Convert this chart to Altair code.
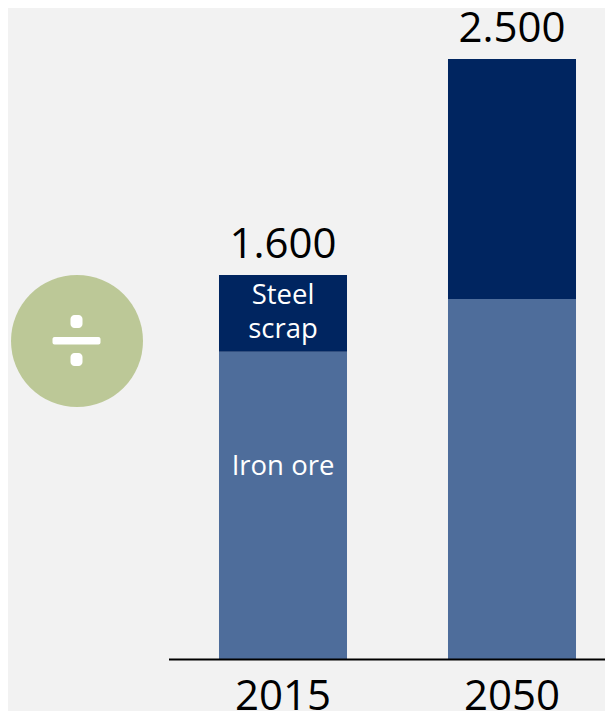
import altair as alt
import pandas as pd

years = ["2015", "2015", "2050", "2050"]
materials = ["Iron ore", "Steel scrap", "Iron ore", "Steel scrap"]
values = [1280, 320, 1500, 1000]
total_years = ["2015", "2050"]
totals = [1600, 2500]
total_labels = ["1.600", "2.500"]
BG = "#F2F2F2"
FONT = "Open Sans"

bars_df = pd.DataFrame({"year": years, "material": materials, "value": values})
totals_df = pd.DataFrame({"year": total_years, "total": totals, "label": total_labels})
inner_df = pd.DataFrame({
    "year": ["2015", "2015", "2015"],
    "v": [1514, 1369, 800],
    "t": ["Steel", "scrap", "Iron ore"],
})

xscale = alt.Scale(domain=total_years, range=[160.5, 618.5], paddingInner=0.441, paddingOuter=0.2205)
x = alt.X(
    "year:N",
    title=None,
    scale=xscale,
    axis=alt.Axis(
        domain=True, domainColor="#000000", domainWidth=2, ticks=False, labelAngle=0,
        labelFontSize=42, labelFont=FONT, labelColor="#000000", labelPadding=50, grid=False,
        labelBaseline="alphabetic", zindex=1,
    ),
)
yscale = alt.Scale(domain=[0, 2712.5], nice=False, zero=True)
y = alt.Y("value:Q", stack="zero", scale=yscale, axis=None)

bars = alt.Chart(bars_df).mark_bar().encode(
    x=x,
    y=y,
    order=alt.Order("material:N"),
    color=alt.Color(
        "material:N",
        scale=alt.Scale(domain=["Iron ore", "Steel scrap"], range=["#4E6D9B", "#002560"]),
        legend=None,
    ),
)

total_text = alt.Chart(totals_df).mark_text(
    font=FONT, fontSize=42, color="#000000", baseline="alphabetic", dy=-17
).encode(
    x=x,
    y=alt.Y("total:Q", scale=yscale, axis=None),
    text="label:N",
)

inner_text = alt.Chart(inner_df).mark_text(
    font=FONT, fontSize=27.5, color="#FFFFFF", baseline="middle"
).encode(
    x=x,
    y=alt.Y("v:Q", scale=yscale, axis=None),
    text="t:N",
)

one = pd.DataFrame({"a": [0]})

circle = alt.Chart(one).mark_circle(
    size=17424, color="#BCC897", opacity=1
).encode(x=alt.value(69), y=alt.value(333))

bar_sign = alt.Chart(one).mark_rect(color="#FFFFFF", cornerRadius=2).encode(
    x=alt.value(44.5), x2=alt.value(92.5), y=alt.value(329), y2=alt.value(336.5)
)
dot_top = alt.Chart(one).mark_rect(color="#FFFFFF", cornerRadius=4).encode(
    x=alt.value(62.5), x2=alt.value(74.5), y=alt.value(307), y2=alt.value(320)
)
dot_bottom = alt.Chart(one).mark_rect(color="#FFFFFF", cornerRadius=4).encode(
    x=alt.value(62.5), x2=alt.value(74.5), y=alt.value(345), y2=alt.value(358)
)

chart = alt.layer(bars, total_text, inner_text, circle, bar_sign, dot_top, dot_bottom).properties(
    width=597,
    height=651,
    background=BG,
    padding={"left": 0, "top": 0, "right": 0, "bottom": 52},
    autosize=alt.AutoSizeParams(type="none"),
).configure_view(stroke=None)

chart.save("out.html", embed_options={"renderer": "svg", "actions": False})
